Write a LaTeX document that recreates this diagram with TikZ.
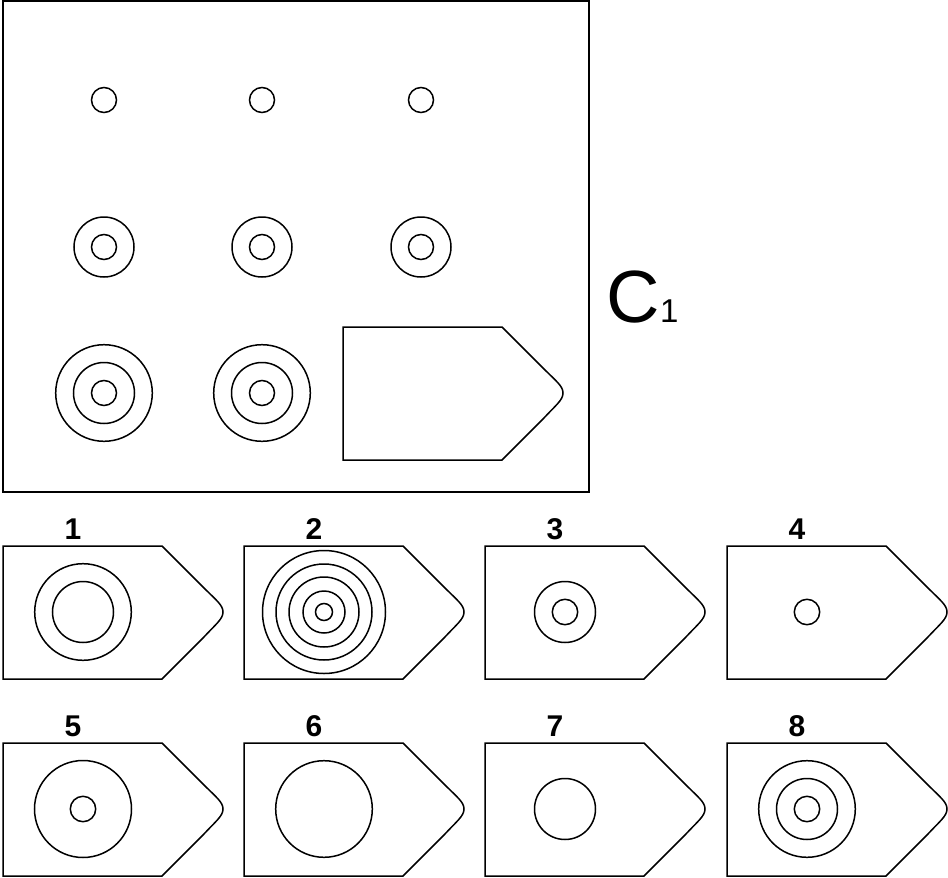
\documentclass[tikz,border=0pt]{standalone}
\usepackage{fontspec}
\setmainfont{Liberation Sans}
\begin{document}
\begin{tikzpicture}[x=1pt,y=-1pt,line width=1.5pt,
    card/.pic={\draw (0,0) -- (159,0) -- (200,41) .. controls (213,54) and (220,59) .. (220,66)
        .. controls (220,73) and (213,78) .. (200,92) -- (159,133) -- (0,133) -- cycle;},
    num/.style={font=\bfseries\fontsize{30}{30}\selectfont}]
  \useasboundingbox (0,0) rectangle (948,878);

  % matrix
  \draw (3,1) rectangle (589,492);
  \foreach \x in {104,262,421} {
    \draw (\x,100) circle [radius=12.5];
    \draw (\x,247) circle [radius=12.5] (\x,247) circle [radius=30];
  }
  \foreach \x in {104,262} {
    \foreach \r in {12.5,30.5,48.3}
      \draw (\x,393) circle [radius=\r];
  }
  \pic at (343,327) {card};

  \node[inner sep=0pt,anchor=base west,font=\fontsize{74}{74}\selectfont] (title) at (606,322)
    {C{\fontsize{33}{33}\selectfont 1}};

  % answers
  \foreach \n/\x/\y/\radii in {1/3/546/{30.5,48.3}, 2/244/546/{8.5,21,35,48,61.5},
      3/485/546/{12.7,30.5}, 4/727/546/{12.7}, 5/3/743/{12.7,48.5}, 6/244/743/{48.3},
      7/485/743/{30.5}, 8/727/743/{12.7,30.5,48.3}} {
    \pic at (\x,\y) {card};
    \node[num] (L\n) at (\x+70,\y-17) {\n};
    \foreach \r in \radii
      \draw (\x+80,\y+66) circle [radius=\r];
  }
\end{tikzpicture}
\end{document}
